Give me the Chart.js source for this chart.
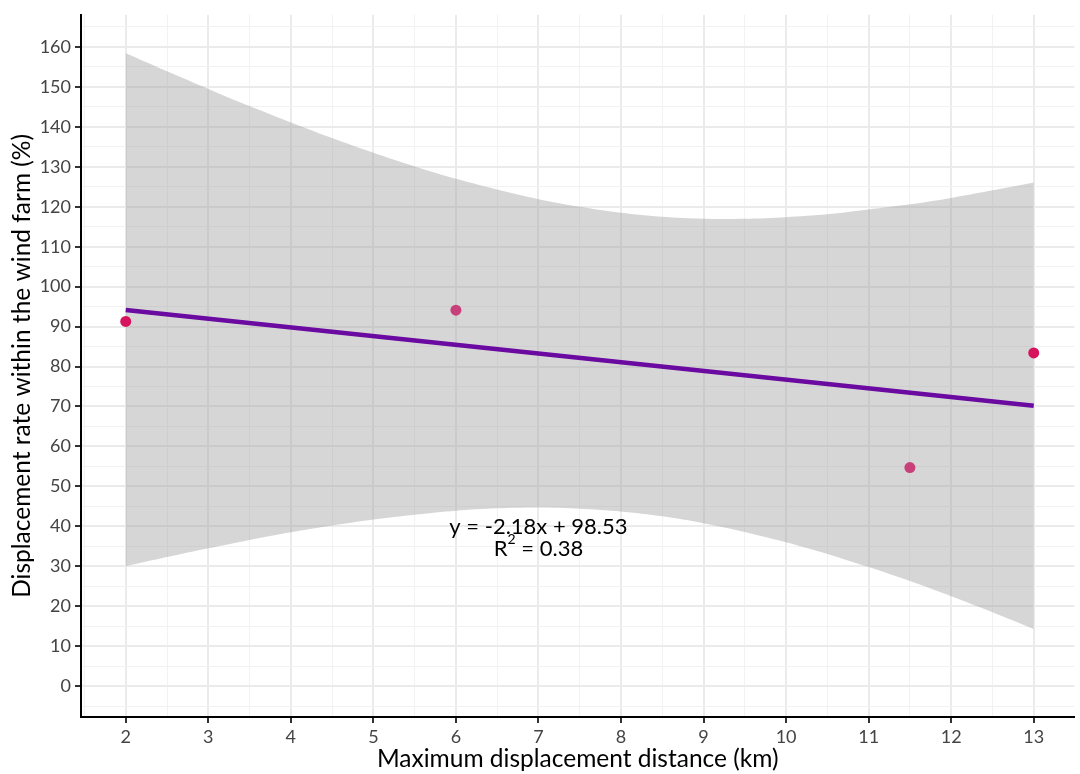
<!DOCTYPE html>
<html>
<head>
<meta charset="utf-8">
<script src="https://cdn.jsdelivr.net/npm/chart.js@4"></script>
<style>
  html, body { margin: 0; padding: 0; background: #fff; overflow: hidden; }
  #wrap { width: 1080px; height: 774px; position: relative; }
</style>
</head>
<body>
<div id="wrap"><canvas id="chart"></canvas></div>
<script>
// observed points
const pointsX = [2, 6, 11.5, 13];
const pointsY = [91.3, 94.1, 54.7, 83.4];
const pointColors = ["#d6135c", "#c8407a", "#c8407a", "#d6135c"];

// fitted line y = -2.18x + 98.53
const fitX = [2, 13];
const fitY = [94.17, 70.19];

// confidence band, every 0.5 km
const bandX = [2, 2.5, 3, 3.5, 4, 4.5, 5, 5.5, 6, 6.5, 7, 7.5, 8, 8.5, 9, 9.5, 10, 10.5, 11, 11.5, 12, 12.5, 13];
const bandUpper = [158.4, 153.9, 149.5, 145.2, 141.1, 137.2, 133.5, 130.1, 127.0, 124.3, 121.9, 120.0, 118.5, 117.5, 117.0, 117.0, 117.4, 118.1, 119.3, 120.6, 122.2, 124.1, 126.1];
const bandLower = [30.0, 32.3, 34.5, 36.6, 38.5, 40.2, 41.7, 42.9, 43.9, 44.5, 44.7, 44.4, 43.7, 42.5, 40.8, 38.6, 36.0, 33.1, 29.8, 26.3, 22.5, 18.5, 14.3];

const xTickLabels = [2, 3, 4, 5, 6, 7, 8, 9, 10, 11, 12, 13];
const yTickLabels = [0, 10, 20, 30, 40, 50, 60, 70, 80, 90, 100, 110, 120, 130, 140, 150, 160];

const X_MIN = 1.458, X_MAX = 13.494;
const Y_MIN = -7.73, Y_MAX = 168.05;

const FONT = "Lato, 'Open Sans', sans-serif";

const pts = (xs, ys) => xs.map((x, i) => ({ x, y: ys[i] }));

// major ticks plus the half-way minor ones, kept inside the range
function withMinor(labels, step, lo, hi) {
  const out = [];
  labels.forEach(v => { out.push(v - step / 2, v); });
  out.push(labels[labels.length - 1] + step / 2);
  return out.filter(v => v >= lo && v <= hi).map(v => ({ value: v }));
}

function gridFor(labels) {
  const major = v => labels.includes(v);
  return {
    color: c => major(c.tick.value) ? "#ebebeb" : "#f2f2f2",
    lineWidth: c => major(c.tick.value) ? 2 : 1,
    tickColor: c => major(c.tick.value) ? "#333333" : "rgba(0,0,0,0)",
    tickWidth: c => major(c.tick.value) ? 2 : 0,
    tickLength: 6,
    drawTicks: true,
  };
}

// equation text placed in data coordinates
const eqnPlugin = {
  id: "eqn",
  afterDatasetsDraw(chart) {
    const { ctx, scales: { x, y } } = chart;
    const cx = x.getPixelForValue(7.0);
    ctx.save();
    ctx.fillStyle = "#000";
    ctx.textBaseline = "middle";
    ctx.font = "22px " + FONT;
    ctx.textAlign = "center";
    ctx.fillText("y = -2.18x + 98.53", cx, y.getPixelForValue(39.9));

    const y2 = y.getPixelForValue(34.4);
    const a = "R", b = " = 0.38";
    ctx.font = "22px " + FONT;
    const wa = ctx.measureText(a).width, wb = ctx.measureText(b).width;
    ctx.font = "14px " + FONT;
    const ws = ctx.measureText("2").width;
    let left = cx - (wa + ws + wb) / 2;
    ctx.textAlign = "left";
    ctx.font = "22px " + FONT;
    ctx.fillText(a, left, y2);
    ctx.font = "14px " + FONT;
    ctx.fillText("2", left + wa, y2 - 9);
    ctx.font = "22px " + FONT;
    ctx.fillText(b, left + wa + ws, y2);
    ctx.restore();
  }
};

new Chart(document.getElementById("chart"), {
  type: "line",
  data: {
    datasets: [
      {
        label: "points", data: pts(pointsX, pointsY), showLine: false,
        pointRadius: 5.5, pointHoverRadius: 5.5, borderWidth: 0,
        pointBackgroundColor: pointColors, pointBorderWidth: 0,
      },
      {
        label: "fit", data: pts(fitX, fitY), borderColor: "#6a0aa0",
        borderWidth: 4.5, pointRadius: 0, fill: false,
      },
      {
        label: "upper", data: pts(bandX, bandUpper), borderWidth: 0,
        borderColor: "rgba(0,0,0,0)", pointRadius: 0, tension: 0.3, fill: false,
      },
      {
        label: "lower", data: pts(bandX, bandLower), borderWidth: 0,
        borderColor: "rgba(0,0,0,0)", pointRadius: 0, tension: 0.3,
        fill: "-1", backgroundColor: "rgba(153,153,153,0.4)",
      },
    ],
  },
  options: {
    responsive: true, maintainAspectRatio: false, animation: false,
    layout: { padding: { left: 0, right: 0, top: 12, bottom: 0 } },
    plugins: { legend: { display: false }, tooltip: { enabled: false } },
    scales: {
      x: {
        type: "linear", min: X_MIN, max: X_MAX,
        afterBuildTicks: s => { s.ticks = withMinor(xTickLabels, 1, X_MIN, X_MAX); },
        afterFit: s => { s.height = 57; },
        ticks: {
          autoSkip: false, maxRotation: 0, padding: 3,
          color: "#444444", font: { family: FONT, size: 18 },
          callback: v => xTickLabels.includes(v) ? String(v) : "",
        },
        grid: gridFor(xTickLabels),
        border: { display: true, color: "#000", width: 2 },
        title: {
          display: true, text: "Maximum displacement distance (km)",
          color: "#000", font: { family: FONT, size: 24.5 }, padding: { top: 0, bottom: 0 },
        },
      },
      y: {
        type: "linear", min: Y_MIN, max: Y_MAX,
        afterBuildTicks: s => { s.ticks = withMinor(yTickLabels, 10, Y_MIN, Y_MAX); },
        afterFit: s => { s.width = 81; },
        ticks: {
          autoSkip: false, padding: 4,
          color: "#444444", font: { family: FONT, size: 18 },
          callback: v => yTickLabels.includes(v) ? String(v) : "",
        },
        grid: gridFor(yTickLabels),
        border: { display: true, color: "#000", width: 2 },
        title: {
          display: true, text: "Displacement rate within the wind farm (%)",
          color: "#000", font: { family: FONT, size: 24.5 }, padding: { top: 7, bottom: 0 },
          align: "center",
        },
      },
    },
  },
  plugins: [eqnPlugin],
});
</script>
</body>
</html>
